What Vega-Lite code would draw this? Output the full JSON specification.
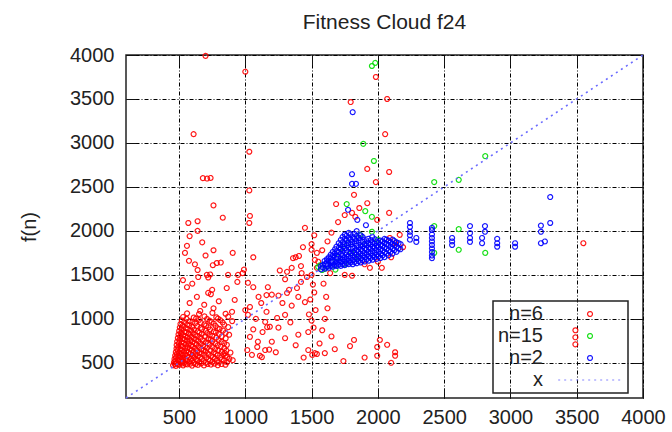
{
  "$schema": "https://vega.github.io/schema/vega-lite/v6.json",
  "autosize": {"type": "none"},
  "padding": {"left": 126, "top": 55, "right": 29, "bottom": 34},
  "width": 517,
  "height": 343,
  "background": "white",
  "title": {"text": "Fitness Cloud f24", "font": "Liberation Sans", "fontSize": 21, "fontWeight": "normal", "color": "#222", "offset": 12, "anchor": "middle"},
  "config": {
    "view": {"stroke": "#222", "strokeWidth": 1.5},
    "axis": {"labelFont": "Liberation Sans", "labelFontSize": 20, "labelColor": "#222", "titleFont": "Liberation Sans", "titleFontSize": 20, "titleFontWeight": "normal", "titleColor": "#222", "domain": false, "tickColor": "#111", "tickSize": -10, "tickWidth": 1, "labelFlush": false, "labelOverlap": false, "format": "d"},
    "legend": {
      "orient": "none", "legendX": 367, "legendY": 246,
      "strokeColor": "#222", "strokeWidth": 1.5, "padding": 3, "rowPadding": 2,
      "labelFont": "Liberation Sans", "labelFontSize": 20, "labelColor": "#222",
      "labelAlign": "right", "labelOffset": -57, "symbolOffset": 84,
      "symbolSize": 24, "symbolStrokeWidth": 1.2
    }
  },
  "layer": [
    {
      "data": {"values": [
        {"s":"n=6","x":700,"y":3990},{"s":"n=6","x":1000,"y":3810},{"s":"n=6","x":610,"y":3100},{"s":"n=6","x":1030,"y":2900},{"s":"n=6","x":680,"y":2600},{"s":"n=6","x":712,"y":2595},{"s":"n=6","x":738,"y":2602},{"s":"n=6","x":1030,"y":2460},{"s":"n=6","x":760,"y":2290},{"s":"n=6","x":570,"y":2090},{"s":"n=6","x":640,"y":2110},{"s":"n=6","x":640,"y":2000},{"s":"n=6","x":830,"y":2150},{"s":"n=6","x":1035,"y":2170},{"s":"n=6","x":1030,"y":2090},
        {"s":"n=6","x":545,"y":1750},{"s":"n=6","x":675,"y":1870},{"s":"n=6","x":575,"y":1660},{"s":"n=6","x":640,"y":1555},{"s":"n=6","x":755,"y":1610},{"s":"n=6","x":785,"y":1635},{"s":"n=6","x":815,"y":1640},{"s":"n=6","x":905,"y":1750},{"s":"n=6","x":1060,"y":1700},{"s":"n=6","x":530,"y":1440},{"s":"n=6","x":645,"y":1475},{"s":"n=6","x":710,"y":1500},{"s":"n=6","x":735,"y":1505},{"s":"n=6","x":720,"y":1470},{"s":"n=6","x":945,"y":1500},{"s":"n=6","x":560,"y":1360},{"s":"n=6","x":720,"y":1295},{"s":"n=6","x":750,"y":1330},{"s":"n=6","x":740,"y":1280},{"s":"n=6","x":635,"y":1250},{"s":"n=6","x":920,"y":1215},{"s":"n=6","x":1000,"y":1100},{"s":"n=6","x":600,"y":1400},{"s":"n=6","x":860,"y":1350},{"s":"n=6","x":800,"y":1200},{"s":"n=6","x":690,"y":1160},{"s":"n=6","x":760,"y":1120},{"s":"n=6","x":580,"y":1180},{"s":"n=6","x":660,"y":1090},{"s":"n=6","x":900,"y":1080},{"s":"n=6","x":980,"y":1520},{"s":"n=6","x":1020,"y":1410},{"s":"n=6","x":1060,"y":1360},{"s":"n=6","x":940,"y":1420},{"s":"n=6","x":870,"y":1500},{"s":"n=6","x":620,"y":1620},{"s":"n=6","x":700,"y":1720},{"s":"n=6","x":560,"y":1830},{"s":"n=6","x":580,"y":1940},{"s":"n=6","x":760,"y":1780},{"s":"n=6","x":990,"y":1560},
        {"s":"n=6","x":1170,"y":1360},{"s":"n=6","x":1160,"y":1270},{"s":"n=6","x":1200,"y":1275},{"s":"n=6","x":1250,"y":1265},{"s":"n=6","x":1315,"y":1295},{"s":"n=6","x":1390,"y":1350},{"s":"n=6","x":1450,"y":1190},{"s":"n=6","x":1465,"y":1475},{"s":"n=6","x":1425,"y":1520},{"s":"n=6","x":1160,"y":1080},{"s":"n=6","x":1150,"y":965},{"s":"n=6","x":1165,"y":905},{"s":"n=6","x":1035,"y":1135},{"s":"n=6","x":1020,"y":1045},{"s":"n=6","x":1185,"y":910},{"s":"n=6","x":1200,"y":740},{"s":"n=6","x":1240,"y":1010},{"s":"n=6","x":1300,"y":1045},{"s":"n=6","x":1095,"y":740},{"s":"n=6","x":1150,"y":645},{"s":"n=6","x":1180,"y":650},{"s":"n=6","x":1035,"y":795},{"s":"n=6","x":1475,"y":850},{"s":"n=6","x":1475,"y":645},{"s":"n=6","x":1350,"y":1150},{"s":"n=6","x":1400,"y":1250},{"s":"n=6","x":1420,"y":1420},{"s":"n=6","x":1280,"y":1180},{"s":"n=6","x":1330,"y":1330},{"s":"n=6","x":1500,"y":1500},{"s":"n=6","x":1510,"y":1390},{"s":"n=6","x":1520,"y":1300},{"s":"n=6","x":1490,"y":1220},{"s":"n=6","x":1530,"y":1100},{"s":"n=6","x":1500,"y":980},{"s":"n=6","x":1515,"y":900},{"s":"n=6","x":1480,"y":1050},{"s":"n=6","x":1550,"y":1650},{"s":"n=6","x":1540,"y":1750},{"s":"n=6","x":1500,"y":1850},{"s":"n=6","x":1520,"y":1950},{"s":"n=6","x":1420,"y":1600},{"s":"n=6","x":1380,"y":1700},{"s":"n=6","x":1260,"y":1550},{"s":"n=6","x":1300,"y":1450},{"s":"n=6","x":1100,"y":1250},{"s":"n=6","x":1120,"y":1180},{"s":"n=6","x":1080,"y":1000},{"s":"n=6","x":1060,"y":880},{"s":"n=6","x":1130,"y":850},{"s":"n=6","x":1250,"y":900},{"s":"n=6","x":1340,"y":960},{"s":"n=6","x":1400,"y":820},{"s":"n=6","x":1300,"y":780},{"s":"n=6","x":1380,"y":700},{"s":"n=6","x":1230,"y":620},{"s":"n=6","x":1110,"y":580},{"s":"n=6","x":1440,"y":560},{"s":"n=6","x":1540,"y":600},{"s":"n=6","x":1560,"y":720},{"s":"n=6","x":1580,"y":870},{"s":"n=6","x":1600,"y":1000},{"s":"n=6","x":1620,"y":1120},{"s":"n=6","x":1610,"y":1250},{"s":"n=6","x":1590,"y":1400},
        {"s":"n=6","x":845,"y":610},{"s":"n=6","x":905,"y":530},{"s":"n=6","x":1015,"y":645},{"s":"n=6","x":1050,"y":590},{"s":"n=6","x":1090,"y":680},{"s":"n=6","x":1125,"y":565},{"s":"n=6","x":1505,"y":590},{"s":"n=6","x":1525,"y":610},{"s":"n=6","x":1600,"y":610},{"s":"n=6","x":1675,"y":655},{"s":"n=6","x":1790,"y":690},{"s":"n=6","x":1995,"y":680},{"s":"n=6","x":1995,"y":580},{"s":"n=6","x":2070,"y":705},{"s":"n=6","x":2130,"y":620},{"s":"n=6","x":2130,"y":580},{"s":"n=6","x":2015,"y":760},{"s":"n=6","x":2100,"y":500},{"s":"n=6","x":1900,"y":560},{"s":"n=6","x":1740,"y":520},{"s":"n=6","x":1820,"y":760},{"s":"n=6","x":1650,"y":800},
        {"s":"n=6","x":1985,"y":3750},{"s":"n=6","x":1795,"y":3465},{"s":"n=6","x":2070,"y":3500},{"s":"n=6","x":2055,"y":3100},{"s":"n=6","x":1920,"y":2705},{"s":"n=6","x":2085,"y":2670},{"s":"n=6","x":1985,"y":2555},{"s":"n=6","x":1820,"y":2410},{"s":"n=6","x":1685,"y":2305},{"s":"n=6","x":1920,"y":2315},{"s":"n=6","x":1860,"y":2260},{"s":"n=6","x":1805,"y":2205},{"s":"n=6","x":1750,"y":2180},{"s":"n=6","x":1830,"y":2160},{"s":"n=6","x":2085,"y":2205},{"s":"n=6","x":1995,"y":2125},{"s":"n=6","x":1450,"y":2035},{"s":"n=6","x":1435,"y":1815},{"s":"n=6","x":1500,"y":1785},{"s":"n=6","x":1405,"y":1715},{"s":"n=6","x":1360,"y":1690},{"s":"n=6","x":1350,"y":1580},{"s":"n=6","x":1315,"y":1535},{"s":"n=6","x":1525,"y":1670},{"s":"n=6","x":1540,"y":1580},{"s":"n=6","x":1640,"y":1520},{"s":"n=6","x":1750,"y":1500},{"s":"n=6","x":1805,"y":1490},{"s":"n=6","x":1940,"y":1580},{"s":"n=6","x":2030,"y":1580},{"s":"n=6","x":2090,"y":1920},{"s":"n=6","x":2130,"y":1860},{"s":"n=6","x":2190,"y":1815},{"s":"n=6","x":2165,"y":1955},{"s":"n=6","x":1700,"y":2100},{"s":"n=6","x":1650,"y":1980},{"s":"n=6","x":1620,"y":1880},{"s":"n=6","x":1580,"y":1780},{"s":"n=6","x":1900,"y":1620},{"s":"n=6","x":2000,"y":1650},{"s":"n=6","x":2100,"y":1700},
        {"s":"n=6","x":3550,"y":1860},{"s":"n=6","x":3490,"y":870},{"s":"n=6","x":3490,"y":790},{"s":"n=6","x":3490,"y":710},
        {"s":"n=6","x":455,"y":472},{"s":"n=6","x":476,"y":465},{"s":"n=6","x":502,"y":478},{"s":"n=6","x":531,"y":470},{"s":"n=6","x":562,"y":482},{"s":"n=6","x":598,"y":468},{"s":"n=6","x":642,"y":476},{"s":"n=6","x":688,"y":470},{"s":"n=6","x":741,"y":480},{"s":"n=6","x":792,"y":472},{"s":"n=6","x":850,"y":478},
        {"s":"n=6","x":462,"y":505},{"s":"n=6","x":481,"y":498},{"s":"n=6","x":512,"y":510},{"s":"n=6","x":541,"y":502},{"s":"n=6","x":577,"y":512},{"s":"n=6","x":612,"y":499},{"s":"n=6","x":651,"y":507},{"s":"n=6","x":702,"y":500},{"s":"n=6","x":752,"y":511},{"s":"n=6","x":801,"y":503},{"s":"n=6","x":862,"y":508},
        {"s":"n=6","x":466,"y":542},{"s":"n=6","x":491,"y":536},{"s":"n=6","x":521,"y":548},{"s":"n=6","x":552,"y":538},{"s":"n=6","x":592,"y":546},{"s":"n=6","x":631,"y":535},{"s":"n=6","x":672,"y":544},{"s":"n=6","x":722,"y":540},{"s":"n=6","x":771,"y":549},{"s":"n=6","x":822,"y":537},{"s":"n=6","x":880,"y":545},
        {"s":"n=6","x":471,"y":582},{"s":"n=6","x":496,"y":575},{"s":"n=6","x":527,"y":588},{"s":"n=6","x":561,"y":579},{"s":"n=6","x":602,"y":585},{"s":"n=6","x":641,"y":576},{"s":"n=6","x":692,"y":590},{"s":"n=6","x":741,"y":578},{"s":"n=6","x":791,"y":586},{"s":"n=6","x":851,"y":580},
        {"s":"n=6","x":476,"y":622},{"s":"n=6","x":502,"y":615},{"s":"n=6","x":536,"y":628},{"s":"n=6","x":571,"y":618},{"s":"n=6","x":611,"y":625},{"s":"n=6","x":652,"y":614},{"s":"n=6","x":701,"y":627},{"s":"n=6","x":761,"y":619},{"s":"n=6","x":822,"y":626},{"s":"n=6","x":888,"y":616},
        {"s":"n=6","x":481,"y":662},{"s":"n=6","x":511,"y":655},{"s":"n=6","x":546,"y":668},{"s":"n=6","x":582,"y":657},{"s":"n=6","x":621,"y":664},{"s":"n=6","x":666,"y":654},{"s":"n=6","x":711,"y":667},{"s":"n=6","x":772,"y":658},{"s":"n=6","x":841,"y":665},
        {"s":"n=6","x":482,"y":702},{"s":"n=6","x":516,"y":696},{"s":"n=6","x":551,"y":708},{"s":"n=6","x":591,"y":697},{"s":"n=6","x":632,"y":705},{"s":"n=6","x":681,"y":694},{"s":"n=6","x":731,"y":706},{"s":"n=6","x":792,"y":699},{"s":"n=6","x":861,"y":704},
        {"s":"n=6","x":486,"y":742},{"s":"n=6","x":521,"y":735},{"s":"n=6","x":562,"y":747},{"s":"n=6","x":601,"y":738},{"s":"n=6","x":646,"y":745},{"s":"n=6","x":702,"y":734},{"s":"n=6","x":751,"y":746},{"s":"n=6","x":821,"y":739},
        {"s":"n=6","x":491,"y":782},{"s":"n=6","x":526,"y":775},{"s":"n=6","x":566,"y":788},{"s":"n=6","x":611,"y":777},{"s":"n=6","x":662,"y":785},{"s":"n=6","x":721,"y":774},{"s":"n=6","x":781,"y":786},{"s":"n=6","x":852,"y":778},
        {"s":"n=6","x":496,"y":822},{"s":"n=6","x":531,"y":815},{"s":"n=6","x":576,"y":828},{"s":"n=6","x":621,"y":818},{"s":"n=6","x":671,"y":825},{"s":"n=6","x":732,"y":814},{"s":"n=6","x":801,"y":826},{"s":"n=6","x":878,"y":819},
        {"s":"n=6","x":501,"y":862},{"s":"n=6","x":541,"y":855},{"s":"n=6","x":591,"y":868},{"s":"n=6","x":641,"y":857},{"s":"n=6","x":702,"y":865},{"s":"n=6","x":761,"y":854},{"s":"n=6","x":832,"y":866},
        {"s":"n=6","x":506,"y":902},{"s":"n=6","x":551,"y":896},{"s":"n=6","x":601,"y":908},{"s":"n=6","x":662,"y":897},{"s":"n=6","x":721,"y":905},{"s":"n=6","x":791,"y":894},{"s":"n=6","x":871,"y":906},
        {"s":"n=6","x":511,"y":942},{"s":"n=6","x":561,"y":935},{"s":"n=6","x":621,"y":948},{"s":"n=6","x":691,"y":938},{"s":"n=6","x":762,"y":945},{"s":"n=6","x":841,"y":934},
        {"s":"n=6","x":521,"y":982},{"s":"n=6","x":581,"y":975},{"s":"n=6","x":651,"y":988},{"s":"n=6","x":731,"y":978},{"s":"n=6","x":811,"y":985},{"s":"n=6","x":901,"y":974},
        {"s":"n=6","x":531,"y":1022},{"s":"n=6","x":611,"y":1015},{"s":"n=6","x":692,"y":1028},{"s":"n=6","x":781,"y":1018},{"s":"n=6","x":871,"y":1025},
        {"s":"n=6","x":561,"y":1062},{"s":"n=6","x":651,"y":1055},{"s":"n=6","x":752,"y":1068},{"s":"n=6","x":851,"y":1058},
        {"s":"n=6","x":468,"y":488},{"s":"n=6","x":493,"y":484},{"s":"n=6","x":523,"y":492},{"s":"n=6","x":549,"y":486},{"s":"n=6","x":586,"y":491},{"s":"n=6","x":624,"y":485},{"s":"n=6","x":667,"y":493},{"s":"n=6","x":716,"y":487},{"s":"n=6","x":766,"y":490},{"s":"n=6","x":821,"y":486},
        {"s":"n=6","x":473,"y":522},{"s":"n=6","x":499,"y":526},{"s":"n=6","x":529,"y":519},{"s":"n=6","x":559,"y":524},{"s":"n=6","x":598,"y":521},{"s":"n=6","x":639,"y":527},{"s":"n=6","x":686,"y":520},{"s":"n=6","x":734,"y":525},{"s":"n=6","x":786,"y":522},{"s":"n=6","x":839,"y":527},
        {"s":"n=6","x":477,"y":561},{"s":"n=6","x":507,"y":565},{"s":"n=6","x":539,"y":559},{"s":"n=6","x":574,"y":563},{"s":"n=6","x":616,"y":560},{"s":"n=6","x":659,"y":566},{"s":"n=6","x":706,"y":561},{"s":"n=6","x":756,"y":564},{"s":"n=6","x":811,"y":560},{"s":"n=6","x":864,"y":565},
        {"s":"n=6","x":484,"y":601},{"s":"n=6","x":514,"y":604},{"s":"n=6","x":547,"y":598},{"s":"n=6","x":586,"y":603},{"s":"n=6","x":626,"y":599},{"s":"n=6","x":671,"y":605},{"s":"n=6","x":721,"y":600},{"s":"n=6","x":776,"y":603},{"s":"n=6","x":834,"y":598},
        {"s":"n=6","x":489,"y":641},{"s":"n=6","x":521,"y":644},{"s":"n=6","x":556,"y":638},{"s":"n=6","x":596,"y":643},{"s":"n=6","x":637,"y":639},{"s":"n=6","x":686,"y":645},{"s":"n=6","x":737,"y":640},{"s":"n=6","x":796,"y":643},{"s":"n=6","x":857,"y":639},
        {"s":"n=6","x":494,"y":681},{"s":"n=6","x":527,"y":684},{"s":"n=6","x":566,"y":678},{"s":"n=6","x":604,"y":683},{"s":"n=6","x":651,"y":679},{"s":"n=6","x":697,"y":685},{"s":"n=6","x":753,"y":680},{"s":"n=6","x":814,"y":683},
        {"s":"n=6","x":499,"y":721},{"s":"n=6","x":536,"y":724},{"s":"n=6","x":574,"y":718},{"s":"n=6","x":619,"y":723},{"s":"n=6","x":664,"y":719},{"s":"n=6","x":719,"y":725},{"s":"n=6","x":774,"y":720},{"s":"n=6","x":841,"y":723},
        {"s":"n=6","x":504,"y":761},{"s":"n=6","x":543,"y":764},{"s":"n=6","x":584,"y":758},{"s":"n=6","x":629,"y":763},{"s":"n=6","x":679,"y":759},{"s":"n=6","x":739,"y":765},{"s":"n=6","x":799,"y":760},
        {"s":"n=6","x":509,"y":801},{"s":"n=6","x":549,"y":804},{"s":"n=6","x":593,"y":798},{"s":"n=6","x":639,"y":803},{"s":"n=6","x":696,"y":799},{"s":"n=6","x":751,"y":805},{"s":"n=6","x":821,"y":800},
        {"s":"n=6","x":516,"y":841},{"s":"n=6","x":555,"y":844},{"s":"n=6","x":603,"y":838},{"s":"n=6","x":654,"y":843},{"s":"n=6","x":713,"y":839},{"s":"n=6","x":777,"y":845},{"s":"n=6","x":851,"y":840},
        {"s":"n=6","x":519,"y":881},{"s":"n=6","x":566,"y":884},{"s":"n=6","x":614,"y":878},{"s":"n=6","x":673,"y":883},{"s":"n=6","x":734,"y":879},{"s":"n=6","x":806,"y":885},
        {"s":"n=6","x":529,"y":921},{"s":"n=6","x":577,"y":924},{"s":"n=6","x":636,"y":918},{"s":"n=6","x":704,"y":923},{"s":"n=6","x":776,"y":919},
        {"s":"n=6","x":539,"y":961},{"s":"n=6","x":601,"y":964},{"s":"n=6","x":664,"y":958},{"s":"n=6","x":746,"y":963},{"s":"n=6","x":829,"y":959},
        {"s":"n=6","x":556,"y":1001},{"s":"n=6","x":629,"y":1004},{"s":"n=6","x":711,"y":998},{"s":"n=6","x":794,"y":1003},
        {"s":"n=15","x":1955,"y":3875},{"s":"n=15","x":1980,"y":3910},{"s":"n=15","x":1890,"y":2990},{"s":"n=15","x":1970,"y":2795},{"s":"n=15","x":2425,"y":2555},{"s":"n=15","x":2610,"y":2580},{"s":"n=15","x":2810,"y":2850},{"s":"n=15","x":1765,"y":2305},{"s":"n=15","x":1905,"y":2225},{"s":"n=15","x":1955,"y":2160},{"s":"n=15","x":2425,"y":2055},{"s":"n=15","x":2610,"y":2020},{"s":"n=15","x":2425,"y":1750},{"s":"n=15","x":2610,"y":1785},{"s":"n=15","x":2810,"y":1750},{"s":"n=15","x":1550,"y":1590},{"s":"n=15","x":1580,"y":1555},{"s":"n=15","x":1600,"y":1570},{"s":"n=15","x":1620,"y":1600},{"s":"n=15","x":1565,"y":1610},{"s":"n=15","x":1865,"y":1955},{"s":"n=15","x":1955,"y":1990},{"s":"n=15","x":1775,"y":1860},{"s":"n=15","x":1700,"y":1700},{"s":"n=15","x":1650,"y":1640},{"s":"n=15","x":1800,"y":1750},{"s":"n=15","x":1900,"y":1850},{"s":"n=15","x":1720,"y":1800},{"s":"n=15","x":1850,"y":1700},{"s":"n=15","x":2000,"y":1900},{"s":"n=15","x":1680,"y":1560},{"s":"n=15","x":1750,"y":1620},
        {"s":"n=2","x":1810,"y":3350},{"s":"n=2","x":1805,"y":2645},{"s":"n=2","x":1805,"y":2535},{"s":"n=2","x":1835,"y":2535},{"s":"n=2","x":1775,"y":2240},{"s":"n=2","x":1845,"y":2125},{"s":"n=2","x":1910,"y":2065},
        {"s":"n=2","x":2242,"y":2090},{"s":"n=2","x":2242,"y":2045},{"s":"n=2","x":2242,"y":1990},{"s":"n=2","x":2242,"y":1950},{"s":"n=2","x":2242,"y":1900},{"s":"n=2","x":2290,"y":1920},{"s":"n=2","x":2290,"y":1875},
        {"s":"n=2","x":2408,"y":2035},{"s":"n=2","x":2408,"y":2010},{"s":"n=2","x":2408,"y":1960},{"s":"n=2","x":2408,"y":1920},{"s":"n=2","x":2408,"y":1880},{"s":"n=2","x":2408,"y":1840},{"s":"n=2","x":2408,"y":1800},{"s":"n=2","x":2408,"y":1760},{"s":"n=2","x":2408,"y":1720},{"s":"n=2","x":2408,"y":1690},
        {"s":"n=2","x":2560,"y":1920},{"s":"n=2","x":2560,"y":1880},{"s":"n=2","x":2560,"y":1840},{"s":"n=2","x":2695,"y":2055},{"s":"n=2","x":2695,"y":1975},{"s":"n=2","x":2695,"y":1920},{"s":"n=2","x":2695,"y":1875},{"s":"n=2","x":2786,"y":1920},{"s":"n=2","x":2786,"y":1860},{"s":"n=2","x":2808,"y":2055},{"s":"n=2","x":2808,"y":1990},{"s":"n=2","x":2900,"y":1910},{"s":"n=2","x":2900,"y":1860},{"s":"n=2","x":2900,"y":1820},{"s":"n=2","x":3035,"y":1860},{"s":"n=2","x":3035,"y":1820},{"s":"n=2","x":3230,"y":2060},{"s":"n=2","x":3230,"y":1990},{"s":"n=2","x":3230,"y":1860},{"s":"n=2","x":3300,"y":2385},{"s":"n=2","x":3300,"y":2090},{"s":"n=2","x":3260,"y":1880},
        {"s":"n=2","x":1570,"y":1562},{"s":"n=2","x":1572,"y":1600},
        {"s":"n=2","x":1600,"y":1571},{"s":"n=2","x":1602,"y":1622},{"s":"n=2","x":1598,"y":1658},
        {"s":"n=2","x":1630,"y":1581},{"s":"n=2","x":1632,"y":1619},{"s":"n=2","x":1628,"y":1662},{"s":"n=2","x":1631,"y":1701},
        {"s":"n=2","x":1660,"y":1592},{"s":"n=2","x":1662,"y":1628},{"s":"n=2","x":1659,"y":1671},{"s":"n=2","x":1661,"y":1719},{"s":"n=2","x":1660,"y":1762},
        {"s":"n=2","x":1690,"y":1601},{"s":"n=2","x":1692,"y":1639},{"s":"n=2","x":1689,"y":1682},{"s":"n=2","x":1691,"y":1721},{"s":"n=2","x":1690,"y":1768},{"s":"n=2","x":1688,"y":1822},
        {"s":"n=2","x":1720,"y":1602},{"s":"n=2","x":1722,"y":1648},{"s":"n=2","x":1719,"y":1691},{"s":"n=2","x":1721,"y":1739},{"s":"n=2","x":1720,"y":1792},{"s":"n=2","x":1718,"y":1841},{"s":"n=2","x":1721,"y":1898},
        {"s":"n=2","x":1750,"y":1611},{"s":"n=2","x":1752,"y":1652},{"s":"n=2","x":1749,"y":1699},{"s":"n=2","x":1751,"y":1751},{"s":"n=2","x":1750,"y":1802},{"s":"n=2","x":1748,"y":1848},{"s":"n=2","x":1751,"y":1911},{"s":"n=2","x":1750,"y":1958},
        {"s":"n=2","x":1780,"y":1622},{"s":"n=2","x":1782,"y":1661},{"s":"n=2","x":1779,"y":1709},{"s":"n=2","x":1781,"y":1762},{"s":"n=2","x":1780,"y":1808},{"s":"n=2","x":1778,"y":1862},{"s":"n=2","x":1781,"y":1921},{"s":"n=2","x":1780,"y":1978},
        {"s":"n=2","x":1810,"y":1621},{"s":"n=2","x":1812,"y":1669},{"s":"n=2","x":1809,"y":1722},{"s":"n=2","x":1811,"y":1771},{"s":"n=2","x":1810,"y":1818},{"s":"n=2","x":1808,"y":1872},{"s":"n=2","x":1811,"y":1929},
        {"s":"n=2","x":1840,"y":1632},{"s":"n=2","x":1842,"y":1679},{"s":"n=2","x":1839,"y":1731},{"s":"n=2","x":1841,"y":1782},{"s":"n=2","x":1840,"y":1829},{"s":"n=2","x":1838,"y":1881},{"s":"n=2","x":1841,"y":1941},{"s":"n=2","x":1840,"y":1998},
        {"s":"n=2","x":1870,"y":1641},{"s":"n=2","x":1872,"y":1689},{"s":"n=2","x":1869,"y":1742},{"s":"n=2","x":1871,"y":1791},{"s":"n=2","x":1870,"y":1838},{"s":"n=2","x":1868,"y":1892},{"s":"n=2","x":1871,"y":1949},
        {"s":"n=2","x":1900,"y":1652},{"s":"n=2","x":1902,"y":1701},{"s":"n=2","x":1899,"y":1748},{"s":"n=2","x":1901,"y":1802},{"s":"n=2","x":1900,"y":1849},{"s":"n=2","x":1898,"y":1902},
        {"s":"n=2","x":1930,"y":1661},{"s":"n=2","x":1932,"y":1709},{"s":"n=2","x":1929,"y":1762},{"s":"n=2","x":1931,"y":1811},{"s":"n=2","x":1930,"y":1858},{"s":"n=2","x":1928,"y":1911},
        {"s":"n=2","x":1960,"y":1672},{"s":"n=2","x":1962,"y":1719},{"s":"n=2","x":1959,"y":1771},{"s":"n=2","x":1961,"y":1822},{"s":"n=2","x":1960,"y":1869},{"s":"n=2","x":1958,"y":1932},
        {"s":"n=2","x":1990,"y":1681},{"s":"n=2","x":1992,"y":1729},{"s":"n=2","x":1989,"y":1782},{"s":"n=2","x":1991,"y":1831},{"s":"n=2","x":1990,"y":1878},
        {"s":"n=2","x":2020,"y":1692},{"s":"n=2","x":2022,"y":1739},{"s":"n=2","x":2019,"y":1791},{"s":"n=2","x":2021,"y":1842},{"s":"n=2","x":2020,"y":1889},
        {"s":"n=2","x":2050,"y":1702},{"s":"n=2","x":2052,"y":1759},{"s":"n=2","x":2049,"y":1811},{"s":"n=2","x":2051,"y":1862},{"s":"n=2","x":2050,"y":1909},
        {"s":"n=2","x":2080,"y":1722},{"s":"n=2","x":2082,"y":1779},{"s":"n=2","x":2079,"y":1841},{"s":"n=2","x":2081,"y":1889},
        {"s":"n=2","x":2110,"y":1741},{"s":"n=2","x":2112,"y":1799},{"s":"n=2","x":2109,"y":1852},{"s":"n=2","x":2111,"y":1901},
        {"s":"n=2","x":2140,"y":1762},{"s":"n=2","x":2142,"y":1819},{"s":"n=2","x":2139,"y":1871},
        {"s":"n=2","x":2170,"y":1791},{"s":"n=2","x":2172,"y":1849},
        {"s":"n=2","x":1585,"y":1583},{"s":"n=2","x":1587,"y":1614},
        {"s":"n=2","x":1615,"y":1592},{"s":"n=2","x":1614,"y":1641},{"s":"n=2","x":1616,"y":1679},
        {"s":"n=2","x":1645,"y":1601},{"s":"n=2","x":1646,"y":1646},{"s":"n=2","x":1644,"y":1691},{"s":"n=2","x":1645,"y":1731},
        {"s":"n=2","x":1675,"y":1611},{"s":"n=2","x":1676,"y":1656},{"s":"n=2","x":1674,"y":1701},{"s":"n=2","x":1675,"y":1746},{"s":"n=2","x":1677,"y":1791},
        {"s":"n=2","x":1705,"y":1616},{"s":"n=2","x":1706,"y":1666},{"s":"n=2","x":1704,"y":1711},{"s":"n=2","x":1705,"y":1761},{"s":"n=2","x":1707,"y":1811},{"s":"n=2","x":1705,"y":1861},
        {"s":"n=2","x":1735,"y":1621},{"s":"n=2","x":1736,"y":1676},{"s":"n=2","x":1734,"y":1721},{"s":"n=2","x":1735,"y":1771},{"s":"n=2","x":1737,"y":1821},{"s":"n=2","x":1735,"y":1871},{"s":"n=2","x":1734,"y":1931},
        {"s":"n=2","x":1765,"y":1631},{"s":"n=2","x":1766,"y":1681},{"s":"n=2","x":1764,"y":1731},{"s":"n=2","x":1765,"y":1781},{"s":"n=2","x":1767,"y":1836},{"s":"n=2","x":1765,"y":1891},{"s":"n=2","x":1764,"y":1946},
        {"s":"n=2","x":1795,"y":1641},{"s":"n=2","x":1796,"y":1691},{"s":"n=2","x":1794,"y":1746},{"s":"n=2","x":1795,"y":1796},{"s":"n=2","x":1797,"y":1846},{"s":"n=2","x":1795,"y":1901},{"s":"n=2","x":1794,"y":1961},
        {"s":"n=2","x":1825,"y":1646},{"s":"n=2","x":1826,"y":1701},{"s":"n=2","x":1824,"y":1751},{"s":"n=2","x":1825,"y":1806},{"s":"n=2","x":1827,"y":1856},{"s":"n=2","x":1825,"y":1911},{"s":"n=2","x":1824,"y":1966},
        {"s":"n=2","x":1855,"y":1656},{"s":"n=2","x":1856,"y":1711},{"s":"n=2","x":1854,"y":1761},{"s":"n=2","x":1855,"y":1816},{"s":"n=2","x":1857,"y":1866},{"s":"n=2","x":1855,"y":1921},
        {"s":"n=2","x":1885,"y":1666},{"s":"n=2","x":1886,"y":1721},{"s":"n=2","x":1884,"y":1771},{"s":"n=2","x":1885,"y":1826},{"s":"n=2","x":1887,"y":1876},{"s":"n=2","x":1885,"y":1931},
        {"s":"n=2","x":1915,"y":1676},{"s":"n=2","x":1916,"y":1731},{"s":"n=2","x":1914,"y":1786},{"s":"n=2","x":1915,"y":1836},{"s":"n=2","x":1917,"y":1886},
        {"s":"n=2","x":1945,"y":1691},{"s":"n=2","x":1946,"y":1746},{"s":"n=2","x":1944,"y":1796},{"s":"n=2","x":1945,"y":1846},{"s":"n=2","x":1947,"y":1896},
        {"s":"n=2","x":1975,"y":1701},{"s":"n=2","x":1976,"y":1751},{"s":"n=2","x":1974,"y":1806},{"s":"n=2","x":1975,"y":1856},{"s":"n=2","x":1977,"y":1906},
        {"s":"n=2","x":2005,"y":1711},{"s":"n=2","x":2006,"y":1761},{"s":"n=2","x":2004,"y":1816},{"s":"n=2","x":2005,"y":1866},
        {"s":"n=2","x":2035,"y":1721},{"s":"n=2","x":2036,"y":1776},{"s":"n=2","x":2034,"y":1831},{"s":"n=2","x":2035,"y":1881},
        {"s":"n=2","x":2065,"y":1741},{"s":"n=2","x":2066,"y":1796},{"s":"n=2","x":2064,"y":1851},{"s":"n=2","x":2065,"y":1901},
        {"s":"n=2","x":2095,"y":1761},{"s":"n=2","x":2096,"y":1816},{"s":"n=2","x":2094,"y":1871},
        {"s":"n=2","x":2125,"y":1781},{"s":"n=2","x":2126,"y":1836},{"s":"n=2","x":2124,"y":1886},
        {"s":"n=2","x":2155,"y":1801},{"s":"n=2","x":2156,"y":1861}
      ]},
      "mark": {"type": "point", "filled": false, "size": 24, "strokeWidth": 1.2, "opacity": 0.9},
      "encoding": {
        "x": {"field": "x", "type": "quantitative", "scale": {"domain": [100, 4000], "nice": false, "zero": false},
              "axis": {"title": null, "values": [500,1000,1500,2000,2500,3000,3500,4000], "grid": true, "gridColor": "#000", "gridDash": [4,2,1,2], "gridWidth": 1, "labelPadding": 19}},
        "y": {"field": "y", "type": "quantitative", "scale": {"domain": [100, 4000], "nice": false, "zero": false},
              "axis": {"title": "f(n)", "values": [500,1000,1500,2000,2500,3000,3500,4000], "grid": true, "gridColor": "#000", "gridDash": [4,2,1,2], "gridWidth": 1, "labelPadding": 22, "titlePadding": 30}},
        "color": {"field": "s", "type": "nominal", "scale": {"domain": ["n=6","n=15","n=2","x"], "range": ["#ff0000","#00dd00","#0000ff","#7b7bff"]}, "legend": {"title": null}},
        "shape": {"field": "s", "type": "nominal", "scale": {"domain": ["n=6","n=15","n=2","x"], "range": ["circle","circle","circle","M-13,0H13"]}, "legend": {"title": null}},
        "strokeDash": {"field": "s", "type": "nominal", "scale": {"domain": ["n=6","n=15","n=2","x"], "range": [[1,0],[1,0],[1,0],[2,4]]}, "legend": {"title": null}}
      }
    },
    {
      "data": {"values": [{"x": 100, "y": 100}, {"x": 4000, "y": 4000}]},
      "mark": {"type": "line", "color": "#6b6bff", "strokeDash": [2, 4], "strokeWidth": 1.6},
      "encoding": {
        "x": {"field": "x", "type": "quantitative", "axis": {"orient": "top", "title": null, "labels": false, "grid": false, "values": [500,1000,1500,2000,2500,3000,3500,4000]}},
        "y": {"field": "y", "type": "quantitative", "axis": {"orient": "right", "title": null, "labels": false, "grid": false, "values": [500,1000,1500,2000,2500,3000,3500,4000]}}
      }
    }
  ],
  "resolve": {"axis": {"x": "independent", "y": "independent"}}
}
